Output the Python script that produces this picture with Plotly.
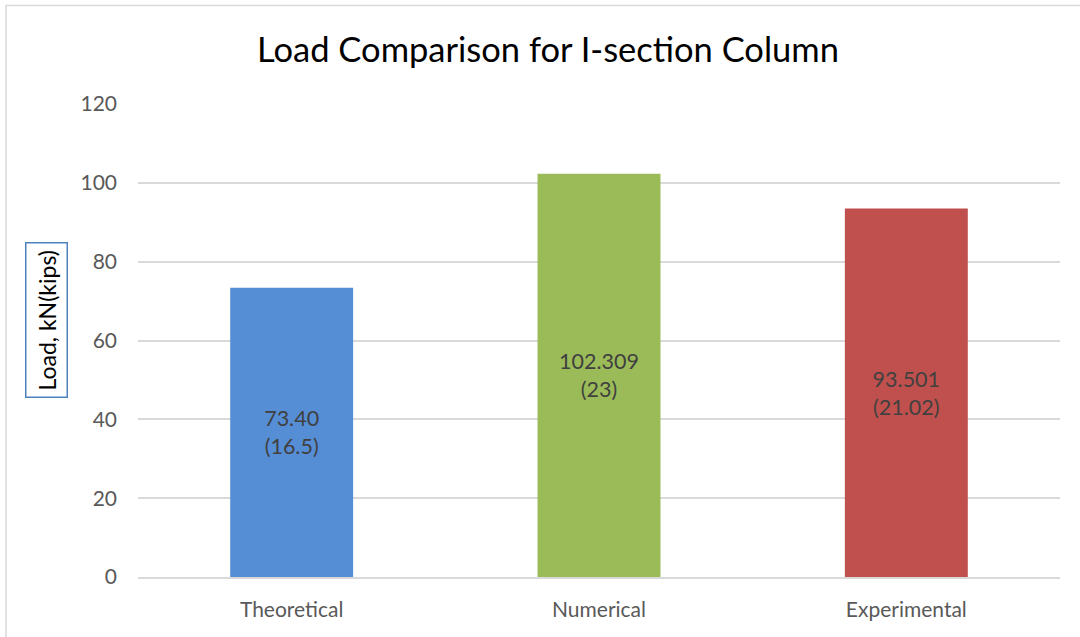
import plotly.graph_objects as go

categories = ["Theoretical", "Numerical", "Experimental"]
loads_kn = [73.40, 102.309, 93.501]
load_labels = ["73.40<br>(16.5)", "102.309<br>(23)", "93.501<br>(21.02)"]
bar_colors = ["#558ED5", "#9BBB59", "#C0504D"]
y_ticks = [0, 20, 40, 60, 80, 100, 120]

FONT = "Lato, Calibri, sans-serif"

fig = go.Figure(
    go.Bar(
        x=categories,
        y=loads_kn,
        marker=dict(color=bar_colors, line=dict(width=0)),
        text=load_labels,
        textposition="inside",
        insidetextanchor="middle",
        textangle=0,
        textfont=dict(family=FONT, size=21.5, color="#404040"),
        cliponaxis=False,
    )
)

fig.update_layout(
    width=1080,
    height=637,
    margin=dict(l=138, r=20, t=104, b=60),
    paper_bgcolor="white",
    plot_bgcolor="white",
    bargap=0.6,
    showlegend=False,
    title=dict(
        text="Load Comparison for I-section Column",
        x=548 / 1080,
        xanchor="center",
        xref="container",
        y=1 - 50 / 637,
        yanchor="middle",
        yref="container",
        font=dict(family=FONT, size=34.5, color="#000000"),
    ),
    xaxis=dict(
        showgrid=False,
        showline=True,
        linecolor="#D9D9D9",
        linewidth=1.5,
        ticks="",
        ticklabelstandoff=13,
        tickfont=dict(family=FONT, size=21, color="#595959"),
    ),
    yaxis=dict(
        range=[0, 120],
        tickvals=y_ticks,
        showgrid=True,
        gridcolor="#D9D9D9",
        gridwidth=1.5,
        zeroline=False,
        showline=False,
        ticks="",
        ticklabelstandoff=20,
        tickfont=dict(family=FONT, size=21, color="#595959"),
    ),
    shapes=[
        # outer chart frame
        dict(
            type="rect",
            xref="paper",
            yref="paper",
            x0=(6 - 138) / 922,
            x1=(1090 - 138) / 922,
            y0=(577 - 650) / 473,
            y1=(577 - 5.5) / 473,
            line=dict(color="#D9D9D9", width=1.5),
            fillcolor="rgba(0,0,0,0)",
            layer="below",
        )
    ],
    annotations=[
        dict(
            text="Load, kN(kips)",
            textangle=-90,
            xref="paper",
            yref="paper",
            x=(46.5 - 138) / 922,
            y=(577 - 320.5) / 473,
            xanchor="center",
            yanchor="middle",
            showarrow=False,
            font=dict(family=FONT, size=23, color="#000000"),
            bordercolor="#4F81BD",
            borderwidth=1.5,
            borderpad=6,
            bgcolor="white",
        )
    ],
)

fig.write_html("out.html")
